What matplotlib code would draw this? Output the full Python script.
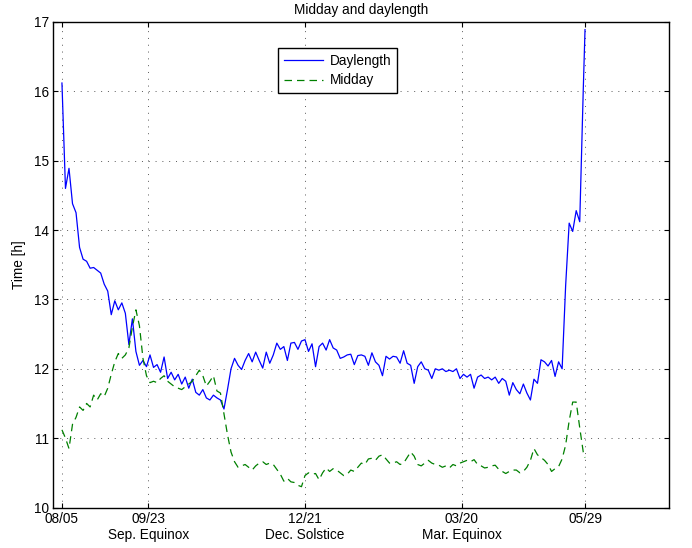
import numpy as np
import matplotlib
matplotlib.use('Agg')
import matplotlib.pyplot as plt

# days counted from 08/05
days = list(range(0, 297, 2)) + [297]

daylength = [16.12, 14.60, 14.89, 14.38, 14.25, 13.75, 13.58, 13.55, 13.45, 13.46,
             13.42, 13.38, 13.22, 13.12, 12.78, 12.98, 12.85, 12.95, 12.80, 12.35,
             12.72, 12.25, 12.05, 12.12, 12.03, 12.20, 12.02, 12.06, 11.95, 12.17,
             11.86, 11.95, 11.84, 11.92, 11.78, 11.88, 11.72, 11.85, 11.66, 11.62,
             11.70, 11.58, 11.55, 11.62, 11.58, 11.55, 11.42, 11.70, 12.00, 12.15,
             12.05, 11.99, 12.12, 12.22, 12.10, 12.24, 12.12, 12.01, 12.24, 12.08,
             12.20, 12.37, 12.28, 12.32, 12.12, 12.37, 12.38, 12.28, 12.40, 12.42,
             12.25, 12.36, 12.03, 12.32, 12.37, 12.27, 12.42, 12.30, 12.27, 12.15,
             12.17, 12.20, 12.21, 12.06, 12.19, 12.20, 12.18, 12.05, 12.23, 12.10,
             12.05, 11.90, 12.18, 12.14, 12.18, 12.17, 12.08, 12.26, 12.08, 12.05,
             11.79, 12.03, 12.10, 12.00, 11.98, 11.86, 12.00, 11.98, 12.00, 11.96,
             11.98, 11.96, 12.00, 11.86, 11.92, 11.88, 11.92, 11.72, 11.88, 11.91,
             11.86, 11.88, 11.84, 11.88, 11.79, 11.86, 11.82, 11.62, 11.80, 11.70,
             11.64, 11.78, 11.65, 11.55, 11.85, 11.79, 12.13, 12.10, 12.04, 12.12,
             11.89, 12.10, 12.00, 13.20, 14.10, 13.98, 14.28, 14.12, 16.02, 16.89]

midday = [11.12, 11.00, 10.85, 11.20, 11.30, 11.45, 11.40, 11.50, 11.45, 11.62,
          11.55, 11.64, 11.60, 11.72, 11.92, 12.10, 12.22, 12.15, 12.20, 12.30,
          12.60, 12.85, 12.62, 12.15, 11.90, 11.80, 11.82, 11.80, 11.86, 11.90,
          11.82, 11.78, 11.74, 11.72, 11.70, 11.74, 11.78, 11.82, 11.90, 11.98,
          11.90, 11.75, 11.82, 11.90, 11.68, 11.65, 11.35, 11.05, 10.80, 10.66,
          10.58, 10.60, 10.62, 10.58, 10.54, 10.60, 10.64, 10.66, 10.62, 10.64,
          10.62, 10.55, 10.48, 10.38, 10.42, 10.37, 10.36, 10.32, 10.30, 10.46,
          10.50, 10.48, 10.49, 10.40, 10.50, 10.57, 10.52, 10.56, 10.54, 10.50,
          10.46, 10.48, 10.54, 10.52, 10.58, 10.64, 10.62, 10.70, 10.71, 10.68,
          10.74, 10.76, 10.70, 10.64, 10.64, 10.66, 10.62, 10.64, 10.72, 10.80,
          10.74, 10.62, 10.60, 10.64, 10.68, 10.64, 10.62, 10.61, 10.58, 10.60,
          10.57, 10.62, 10.60, 10.64, 10.66, 10.68, 10.66, 10.69, 10.62, 10.60,
          10.57, 10.58, 10.60, 10.61, 10.55, 10.52, 10.49, 10.52, 10.54, 10.54,
          10.50, 10.52, 10.58, 10.68, 10.85, 10.76, 10.72, 10.68, 10.62, 10.52,
          10.56, 10.59, 10.70, 10.90, 11.25, 11.52, 11.52, 11.15, 10.80, 10.72]

tick_days = [0, 49, 138, 227, 297]
tick_labels = ['08/05', '09/23\nSep. Equinox', '12/21\nDec. Solstice',
               '03/20\nMar. Equinox', '05/29']

plt.rcParams['font.family'] = ['Liberation Sans', 'DejaVu Sans']
plt.rcParams['font.size'] = 9.8

fig = plt.figure(figsize=(6.92, 5.48), dpi=100)
ax = fig.add_axes([0.0773, 0.0739, 0.8895, 0.886])

ax.plot(days, daylength, color=(0, 0, 1), lw=0.9, label='Daylength')
ax.plot(days, midday, color=(0, 0.5, 0), lw=0.9, dashes=(6, 4), label='Midday')

ax.set_xlim(-4.8, 344.7)
ax.set_ylim(10, 17)
ax.set_xticks(tick_days)
ax.set_xticklabels(tick_labels)
ax.set_yticks(range(10, 18))

ax.grid(True, color='0.35', linestyle=(0, (1, 6)), lw=0.7)
ax.tick_params(direction='in', length=3.6, width=0.8, top=True, right=True,
               labelsize=9.8, pad=3)
for s in ax.spines.values():
    s.set_linewidth(1.0)

ax.set_title('Midday and daylength', fontsize=9.8, pad=6)
ax.set_ylabel('Time [h]', fontsize=9.8, labelpad=6)

leg = ax.legend(loc='upper left', bbox_to_anchor=(0.365, 0.9465), fancybox=False,
                framealpha=1, edgecolor='black', handlelength=2.85,
                handletextpad=0.5, borderpad=0.42, labelspacing=0.42,
                fontsize=9.8, borderaxespad=0)
leg.get_frame().set_linewidth(1.0)

fig.savefig('out.png', dpi=100)
